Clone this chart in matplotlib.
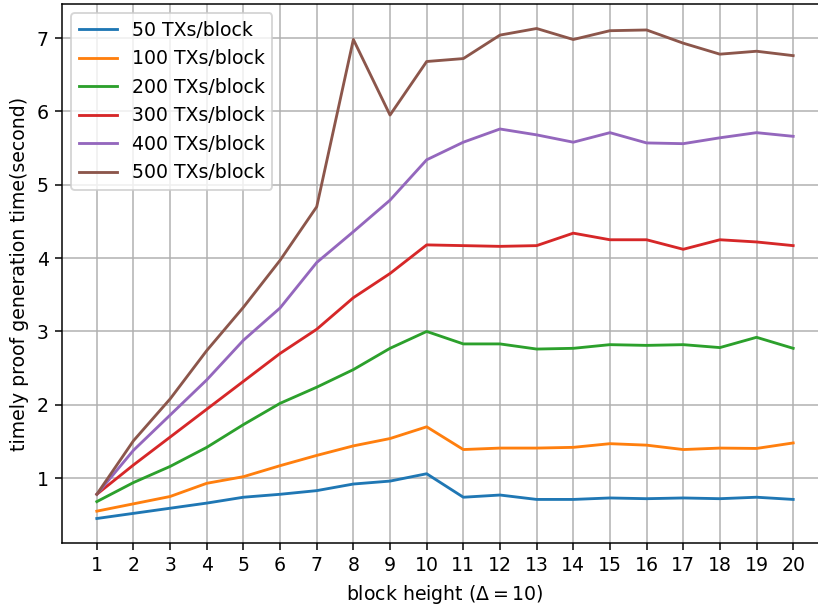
import numpy as np
import matplotlib
matplotlib.use("Agg")
import matplotlib.pyplot as plt

# block heights
blocks = list(range(1, 21))

# proof generation time (seconds)
tx50 = [0.45, 0.52, 0.59, 0.66, 0.74, 0.78, 0.83, 0.92, 0.96, 1.06,
        0.74, 0.77, 0.71, 0.71, 0.73, 0.72, 0.73, 0.72, 0.74, 0.71]
tx100 = [0.55, 0.65, 0.75, 0.93, 1.02, 1.17, 1.31, 1.44, 1.54, 1.70,
         1.39, 1.41, 1.41, 1.42, 1.47, 1.45, 1.39, 1.41, 1.405, 1.48]
tx200 = [0.68, 0.94, 1.16, 1.42, 1.73, 2.02, 2.24, 2.48, 2.77, 3.00,
         2.83, 2.83, 2.76, 2.77, 2.82, 2.81, 2.82, 2.78, 2.92, 2.77]
tx300 = [0.78, 1.18, 1.56, 1.94, 2.32, 2.70, 3.03, 3.46, 3.79, 4.18,
         4.17, 4.16, 4.17, 4.34, 4.25, 4.25, 4.12, 4.25, 4.22, 4.17]
tx400 = [0.78, 1.38, 1.86, 2.34, 2.88, 3.32, 3.94, 4.36, 4.79, 5.34,
         5.58, 5.76, 5.68, 5.58, 5.71, 5.57, 5.56, 5.64, 5.71, 5.66]
tx500 = [0.78, 1.51, 2.08, 2.74, 3.33, 3.97, 4.70, 6.98, 5.95, 6.68,
         6.72, 7.04, 7.13, 6.98, 7.10, 7.11, 6.93, 6.78, 6.82, 6.76]

series = [tx50, tx100, tx200, tx300, tx400, tx500]
labels = ["50 TXs/block", "100 TXs/block", "200 TXs/block",
          "300 TXs/block", "400 TXs/block", "500 TXs/block"]

# the reference looks like a default plot saved at a higher dpi and cropped
DPI = 136
fig = plt.figure(figsize=(818/DPI, 608/DPI), dpi=DPI)
ax = fig.add_axes([62/818, 65/608, 766/818, 539/608])

for ys, lab in zip(series, labels):
    ax.plot(blocks, ys, label=lab)

ax.set_xticks(blocks)
ax.set_xlabel(r"block height ($\Delta = 10$)")
ax.set_ylabel("timely proof generation time(second)")
ax.grid(True)
ax.legend(loc="upper left")

fig.savefig("out.png", dpi=DPI)
